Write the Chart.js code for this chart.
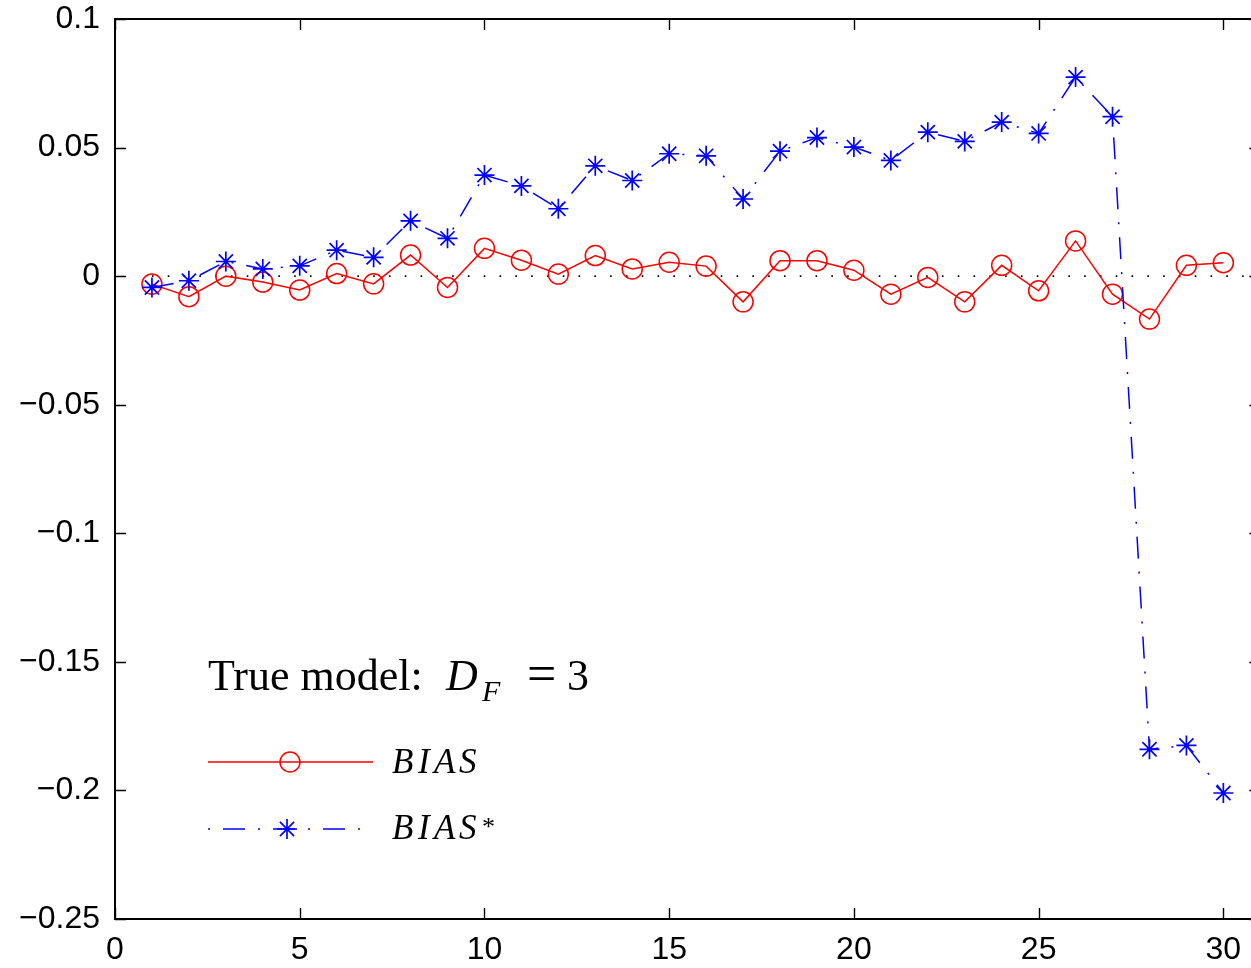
<!DOCTYPE html>
<html><head><meta charset="utf-8">
<script src="https://cdn.jsdelivr.net/npm/chart.js@4"></script>
<style>
html,body{margin:0;padding:0;background:#fff;overflow:hidden}
#wrap{width:1251px;height:968px;position:relative;overflow:hidden}
#wrap canvas{position:absolute;left:0;top:0}
</style>
</head><body><div id="wrap"><canvas id="c" width="1262" height="968" style="width:1262px;height:968px"></canvas></div>
<script>
const xValues = [1,2,3,4,5,6,7,8,9,10,11,12,13,14,15,16,17,18,19,20,21,22,23,24,25,26,27,28,29,30];
const bias = [-0.0031,-0.0080,0.0000,-0.0023,-0.0054,0.0010,-0.0030,0.0082,-0.0044,0.0108,
              0.0062,0.0008,0.0080,0.0028,0.0054,0.0039,-0.0100,0.0060,0.0060,0.0023,
              -0.0070,-0.0005,-0.0100,0.0042,-0.0057,0.0137,-0.0070,-0.0167,0.0042,0.0052];
const biasStar = [-0.0044,-0.0018,0.0057,0.0028,0.0040,0.0101,0.0073,0.0215,0.0147,0.0393,
                  0.0351,0.0262,0.0429,0.0372,0.0476,0.0468,0.0300,0.0486,0.0539,0.0502,
                  0.0450,0.0560,0.0524,0.0599,0.0555,0.0774,0.0620,-0.1840,-0.1825,-0.2010];
const zeroLineX = [1,31];
const zeroLineY = [0,0];
const xTicks = [0,5,10,15,20,25,30];
const yTicks = [0.1,0.05,0,-0.05,-0.1,-0.15,-0.2,-0.25];
const yTickLabels = ['0.1','0.05','0','\u22120.05','\u22120.1','\u22120.15','\u22120.2','\u22120.25'];
const seriesLetters = ['B','I','A','S'];
const titleText = 'True model:';

const toPts = (xs, ys) => xs.map((x,i)=>({x:x,y:ys[i]}));

const framePlugin = {
  id:'frame',
  afterDatasetsDraw(chart){
    const ctx = chart.ctx, a = chart.chartArea;
    const xs = chart.scales.x, ys = chart.scales.y;
    ctx.save();
    ctx.strokeStyle = '#000';
    ctx.lineWidth = 1.4;
    ctx.beginPath();
    const tl = 11;
    xTicks.forEach(v=>{
      const px = Math.round(xs.getPixelForValue(v))+0.5;
      ctx.moveTo(px,a.bottom); ctx.lineTo(px,a.bottom-tl);
      ctx.moveTo(px,a.top); ctx.lineTo(px,a.top+tl);
    });
    yTicks.forEach(v=>{
      const py = Math.round(ys.getPixelForValue(v))+0.5;
      ctx.moveTo(a.left,py); ctx.lineTo(a.left+tl,py);
      ctx.moveTo(a.right,py); ctx.lineTo(a.right-tl,py);
    });
    ctx.stroke();
    ctx.lineWidth = 2;
    ctx.strokeRect(a.left, a.top, a.right-a.left, a.bottom-a.top);

    // annotation / legend
    ctx.fillStyle = '#000';
    ctx.textBaseline = 'alphabetic';
    ctx.textAlign = 'left';
    ctx.font = '44px "Liberation Serif"';
    ctx.fillText(titleText, 208, 690);
    ctx.font = 'italic 44px "Liberation Serif"';
    ctx.fillText('D', 446, 690);
    ctx.font = 'italic 30px "Liberation Serif"';
    ctx.fillText('F', 482, 701);
    ctx.font = '52px "Liberation Serif"';
    ctx.fillText('=', 527, 691);
    ctx.font = '44px "Liberation Serif"';
    ctx.fillText('3', 567, 690);

    // red sample
    ctx.strokeStyle = '#ff0000';
    ctx.lineWidth = 1.5;
    ctx.setLineDash([]);
    ctx.beginPath(); ctx.moveTo(208,762); ctx.lineTo(373,762); ctx.stroke();
    ctx.beginPath(); ctx.arc(290,762,10,0,Math.PI*2); ctx.stroke();
    // blue sample
    ctx.strokeStyle = '#0000ff';
    ctx.setLineDash([2,13,22,13]);
    ctx.beginPath(); ctx.moveTo(208,829); ctx.lineTo(363,829); ctx.stroke();
    ctx.setLineDash([]);
    ctx.lineWidth = 1.7;
    ctx.beginPath();
    const sx = 287, sy = 829, r = 10;
    for (let k=0;k<4;k++){
      const ang = k*Math.PI/4;
      ctx.moveTo(sx-Math.cos(ang)*r, sy-Math.sin(ang)*r);
      ctx.lineTo(sx+Math.cos(ang)*r, sy+Math.sin(ang)*r);
    }
    ctx.stroke();

    ctx.fillStyle = '#000';
    ctx.font = 'italic 35px "Liberation Serif"';
    const lx = [392,418,434,459];
    seriesLetters.forEach((ch,i)=>{
      ctx.fillText(ch, lx[i], 773);
      ctx.fillText(ch, lx[i], 839);
    });
    ctx.font = '26px "Liberation Serif"';
    ctx.fillText('*', 482, 835);
    ctx.restore();
  }
};

const canvas = document.getElementById('c');
function build(W){
  canvas.width = W; canvas.height = 968;
  canvas.style.width = W + 'px'; canvas.style.height = '968px';
  return new Chart(canvas, {
    type:'line',
    data:{
      datasets:[
        {label:'BIAS*', data:toPts(xValues,biasStar), borderColor:'#0000ff', backgroundColor:'rgba(0,0,0,0)',
         borderWidth:1.5, borderDash:[22,13,2,13], pointStyle:'star', pointRadius:10,
         pointBorderColor:'#0000ff', pointBorderWidth:1.7, tension:0, order:0},
        {label:'BIAS', data:toPts(xValues,bias), borderColor:'#ff0000', backgroundColor:'rgba(0,0,0,0)',
         borderWidth:1.5, pointStyle:'circle', pointRadius:10, pointBorderColor:'#ff0000',
         pointBackgroundColor:'rgba(0,0,0,0)', pointBorderWidth:1.5, tension:0, order:1},
        {label:'zero', data:toPts(zeroLineX,zeroLineY), borderColor:'#000', borderWidth:1.6,
         borderDash:[1.6,14.2], pointRadius:0, tension:0, order:2}
      ]
    },
    options:{
      responsive:false, animation:false, devicePixelRatio:1,
      layout:{padding:{top:19,right:0,left:0,bottom:0}},
      plugins:{legend:{display:false}, tooltip:{enabled:false}},
      scales:{
        x:{type:'linear', min:0, max:31,
           grid:{display:false, drawTicks:false}, border:{display:false},
           afterBuildTicks:s=>{s.ticks = xTicks.map(v=>({value:v}));},
           afterFit:s=>{s.height = 49; s.paddingLeft = 0; s.paddingRight = 0;},
           ticks:{font:{family:'"Liberation Sans"', size:32}, color:'#000', padding:12, maxRotation:0,
                  callback:v=>String(v)}},
        y:{type:'linear', min:-0.25, max:0.1,
           grid:{display:false, drawTicks:false}, border:{display:false},
           afterBuildTicks:s=>{s.ticks = yTicks.map(v=>({value:v}));},
           afterFit:s=>{s.width = 115; s.paddingTop = 0; s.paddingBottom = 0;},
           ticks:{font:{family:'"Liberation Sans"', size:32}, color:'#000', padding:15,
                  callback:(v,i)=>yTickLabels[i]}}
      }
    },
    plugins:[framePlugin]
  });
}
let W = 1262;
let chart = build(W);
for (let k=0;k<3;k++){
  const delta = 1260 - chart.chartArea.right;
  if (Math.abs(delta) < 0.5) break;
  chart.destroy();
  W = Math.round(W + delta);
  chart = build(W);
}
</script></body></html>
